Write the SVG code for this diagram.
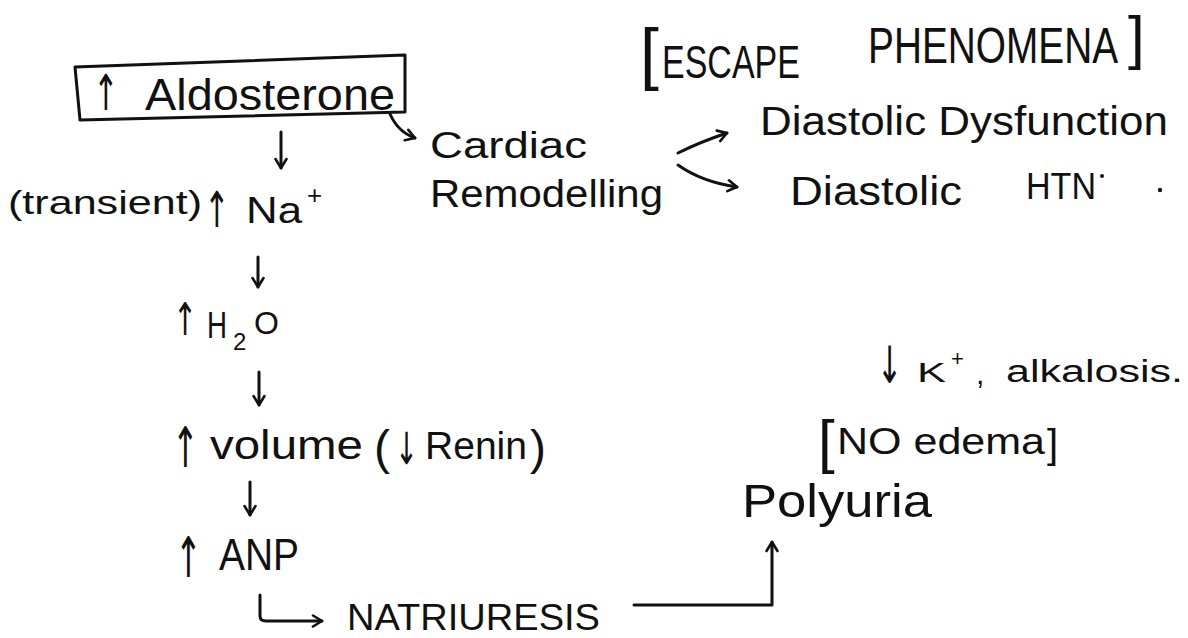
<svg xmlns="http://www.w3.org/2000/svg" width="1188" height="638" viewBox="0 0 1188 638">
  <defs>
    <style>
      .t { font-family: "Liberation Sans", Arial, sans-serif; fill: #111; }
      .ar { font-family: "DejaVu Sans", "Liberation Sans", sans-serif; fill: #111; }
      .c { fill: none; stroke: #111; stroke-width: 3; stroke-linecap: round; stroke-linejoin: round; }
      .box { fill: none; stroke: #111; stroke-width: 3; stroke-linejoin: round; }
    </style>
    <marker id="head" viewBox="0 0 14 14" markerWidth="14" markerHeight="14" refX="12" refY="7" orient="auto" markerUnits="userSpaceOnUse">
      <path d="M3,1.5 L12,7 L3,12.5" fill="none" stroke="#111" stroke-width="2.6" stroke-linecap="round" stroke-linejoin="round"/>
    </marker>
  </defs>

  <rect width="1188" height="638" fill="#ffffff"/>

  <!-- heading -->
  <g id="title">
    <text class="t" x="640" y="77" font-size="68">[</text>
    <text class="t" x="662" y="78" font-size="46" textLength="138" lengthAdjust="spacingAndGlyphs">ESCAPE</text>
    <text class="t" font-size="50" transform="translate(868,63) scale(0.776,1)">PHENOMENA</text>
    <text class="t" x="1128" y="58" font-size="60">]</text>
  </g>

  <!-- main chain -->
  <g id="aldosterone">
    <path class="box" d="M75,67 L405,55 L405,112 L80,120 Z"/>
    <text class="ar" font-size="38" transform="translate(93,110) scale(0.8,1.3)">↑</text>
    <text class="t" x="145" y="110" font-size="44" textLength="250" lengthAdjust="spacingAndGlyphs">Aldosterone</text>
  </g>

  <g id="sodium">
    <text class="t" x="8" y="214" font-size="34" textLength="194" lengthAdjust="spacingAndGlyphs">(transient)</text>
    <text class="ar" font-size="38" transform="translate(204,227) scale(0.8,1.3)">↑</text>
    <text class="t" x="246" y="223" font-size="36" textLength="56" lengthAdjust="spacingAndGlyphs">Na</text>
    <text class="t" x="307" y="204" font-size="26">+</text>
  </g>

  <g id="water">
    <text class="ar" font-size="36" transform="translate(173,335) scale(0.8,1.25)">↑</text>
    <text class="t" x="207" y="338" font-size="36" textLength="20" lengthAdjust="spacingAndGlyphs">H</text>
    <text class="t" x="233" y="350" font-size="24">2</text>
    <text class="t" x="254" y="334" font-size="32">O</text>
  </g>

  <g id="volume">
    <text class="ar" font-size="40" transform="translate(172,467) scale(0.8,1.4)">↑</text>
    <text class="t" x="210" y="459" font-size="40" textLength="153" lengthAdjust="spacingAndGlyphs">volume</text>
    <text class="t" x="374" y="464" font-size="48">(</text>
    <text class="ar" font-size="34" transform="translate(395,464) scale(0.8,1.3)">↓</text>
    <text class="t" x="425" y="459" font-size="38" textLength="102" lengthAdjust="spacingAndGlyphs">Renin</text>
    <text class="t" x="530" y="464" font-size="48">)</text>
  </g>

  <g id="anp">
    <text class="ar" font-size="40" transform="translate(175,577) scale(0.8,1.4)">↑</text>
    <text class="t" x="219" y="570" font-size="44" textLength="80" lengthAdjust="spacingAndGlyphs">ANP</text>
  </g>

  <g id="natriuresis">
    <text class="t" x="347" y="630" font-size="36" textLength="253" lengthAdjust="spacingAndGlyphs">NATRIURESIS</text>
  </g>

  <!-- side branches -->
  <g id="remodelling">
    <text class="t" x="430" y="158" font-size="36" textLength="157" lengthAdjust="spacingAndGlyphs">Cardiac</text>
    <text class="t" x="430" y="207" font-size="38" textLength="233" lengthAdjust="spacingAndGlyphs">Remodelling</text>
  </g>

  <g id="dysfunction">
    <text class="t" x="760" y="135" font-size="40" textLength="408" lengthAdjust="spacingAndGlyphs">Diastolic Dysfunction</text>
  </g>

  <g id="htn">
    <text class="t" x="790" y="205" font-size="40" textLength="172" lengthAdjust="spacingAndGlyphs">Diastolic</text>
    <text class="t" x="1026" y="199" font-size="36" textLength="70" lengthAdjust="spacingAndGlyphs">HTN</text>
    <circle cx="1102" cy="176" r="2" fill="#111"/>
    <circle cx="1160" cy="190" r="2.2" fill="#111"/>
  </g>

  <g id="hypokalemia">
    <text class="ar" font-size="38" transform="translate(877,383) scale(0.8,1.35)">↓</text>
    <text class="t" x="917" y="382" font-size="28" textLength="29" lengthAdjust="spacingAndGlyphs">K</text>
    <text class="t" x="951" y="366" font-size="22">+</text>
    <text class="t" x="976" y="384" font-size="30">,</text>
    <text class="t" x="1006" y="382" font-size="31" textLength="177" lengthAdjust="spacingAndGlyphs">alkalosis.</text>
  </g>

  <g id="edema">
    <text class="t" x="818" y="462" font-size="60">[</text>
    <text class="t" x="837" y="454" font-size="36" textLength="208" lengthAdjust="spacingAndGlyphs">NO  edema</text>
    <text class="t" x="1047" y="458" font-size="40">]</text>
  </g>

  <g id="polyuria">
    <text class="t" x="742" y="517" font-size="46" textLength="190" lengthAdjust="spacingAndGlyphs">Polyuria</text>
  </g>

  <!-- connectors -->
  <g id="connectors">
    <path class="c" d="M281,132 V168" marker-end="url(#head)"/>
    <path class="c" d="M390,114 Q398,132 415,138" marker-end="url(#head)"/>
    <path class="c" d="M678,153 Q700,142 727,133" marker-end="url(#head)"/>
    <path class="c" d="M678,165 Q702,182 737,187" marker-end="url(#head)"/>
    <path class="c" d="M258,257 V287" marker-end="url(#head)"/>
    <path class="c" d="M259,372 V405" marker-end="url(#head)"/>
    <path class="c" d="M250,482 V515" marker-end="url(#head)"/>
    <path class="c" d="M260,595 V616 Q260,621 266,621 H322" marker-end="url(#head)"/>
    <path class="c" d="M634,605 H772 V542" marker-end="url(#head)"/>
  </g>
</svg>
